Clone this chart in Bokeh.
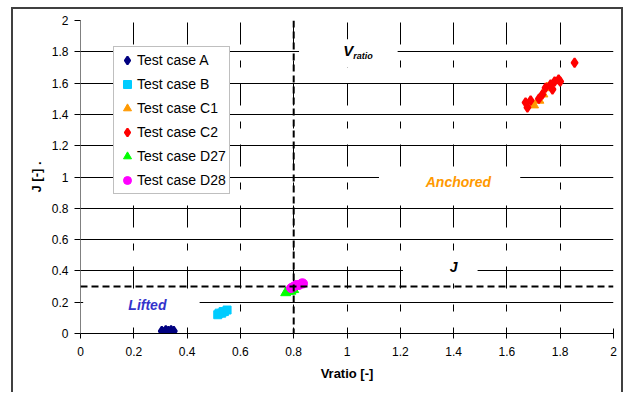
import numpy as np
from bokeh.plotting import figure
from bokeh.models import Span, Label, BoxAnnotation, FixedTicker, Legend, LegendItem
from bokeh.embed import file_html
from bokeh.resources import INLINE

# ---------------- data ----------------
a_x = [0.305, 0.315, 0.32, 0.33, 0.335, 0.34, 0.35]
a_y = [0.015, 0.01, 0.02, 0.015, 0.01, 0.02, 0.015]
b_x = [0.515, 0.52, 0.53, 0.535, 0.54, 0.55]
b_y = [0.12, 0.13, 0.13, 0.14, 0.14, 0.15]
c1_x = [1.70, 1.72, 1.735, 1.75]
c1_y = [1.46, 1.49, 1.53, 1.57]
c2_x = [1.677, 1.67, 1.689, 1.72, 1.733, 1.745, 1.764, 1.771, 1.779, 1.794, 1.80, 1.854]
c2_y = [1.444, 1.476, 1.489, 1.50, 1.527, 1.57, 1.59, 1.56, 1.61, 1.623, 1.61, 1.73]
d27_x = [0.77, 0.78, 0.79, 0.80]
d27_y = [0.26, 0.27, 0.27, 0.28]
d28_x = [0.79, 0.80, 0.81, 0.82, 0.83, 0.835]
d28_y = [0.29, 0.30, 0.31, 0.31, 0.32, 0.32]

vratio_threshold = 0.8
j_threshold = 0.3

x_ticks = [0, 0.2, 0.4, 0.6, 0.8, 1, 1.2, 1.4, 1.6, 1.8, 2]
x_tick_labels = ["0", "0.2", "0.4", "0.6", "0.8", "1", "1.2", "1.4", "1.6", "1.8", "2"]
y_ticks = [0, 0.2, 0.4, 0.6, 0.8, 1, 1.2, 1.4, 1.6, 1.8, 2]
y_tick_labels = ["0", "0.2", "0.4", "0.6", "0.8", "1", "1.2", "1.4", "1.6", "1.8", "2"]

FONT = "Liberation Sans"

p = figure(frame_width=533, frame_height=313, x_range=(0, 2), y_range=(0, 2),
           output_backend="svg", toolbar_location=None,
           min_border_left=67, min_border_right=8, min_border_top=11, min_border_bottom=59,
           background_fill_color="white", border_fill_color="white",
           outline_line_color=None)
p.styles = {"border-left": "2px solid #404040", "border-top": "2px solid #404040",
            "border-right": "2px solid #404040", "margin-left": "11px", "margin-top": "7px"}

# axes
p.xaxis.ticker = FixedTicker(ticks=x_ticks)
p.yaxis.ticker = FixedTicker(ticks=y_ticks)
p.xaxis.major_label_overrides = dict(zip(x_ticks, x_tick_labels))
p.yaxis.major_label_overrides = dict(zip(y_ticks, y_tick_labels))
for ax in (p.xaxis, p.yaxis):
    ax.major_label_text_font = FONT
    ax.major_label_text_font_size = "12px"
    ax.major_label_text_color = "black"
    ax.axis_label_text_font = FONT
    ax.axis_label_text_font_size = "13px"
    ax.axis_label_text_font_style = "bold"
    ax.axis_label_text_color = "black"
    ax.minor_tick_line_color = None
    ax.major_tick_line_color = "black"
p.xaxis.axis_label = "Vratio [-]"
p.yaxis.axis_label = "J [-] ."
p.xaxis.axis_line_color = "black"
p.yaxis.axis_line_color = "#808080"
p.xaxis.major_tick_in = 5
p.xaxis.major_tick_out = 5
p.yaxis.major_tick_in = 0
p.yaxis.major_tick_out = 6
p.xaxis.major_label_standoff = 8
p.yaxis.major_label_standoff = 6
p.xaxis.axis_label_standoff = 7
p.yaxis.axis_label_standoff = 5

# grids
p.ygrid.grid_line_color = "black"
p.ygrid.grid_line_width = 1
p.xgrid.grid_line_color = "black"
p.xgrid.grid_line_width = 1
p.xgrid.grid_line_dash = "22 16 7 16"
p.xgrid.grid_line_dash_offset = 16

# white label boxes
for l, r, b, t in [(0.82, 1.19, 1.70, 1.88), (1.12, 1.65, 0.88, 1.048),
                   (1.21, 1.49, 0.32, 0.50), (0.01, 0.447, 0.10, 0.26)]:
    p.add_layout(BoxAnnotation(left=l, right=r, bottom=b, top=t, fill_color="white",
                               fill_alpha=1.0, line_color=None))

# threshold lines
p.add_layout(Span(location=vratio_threshold, dimension="height", line_color="black",
                  line_width=2, line_dash="7 4"))
p.add_layout(Span(location=j_threshold, dimension="width", line_color="black",
                  line_width=2, line_dash="7 4"))

# region labels
p.add_layout(Label(x=1.005, y=1.808, text="V", text_font=FONT, text_font_size="15px",
                   text_font_style="bold italic", text_align="center", text_baseline="middle",
                   text_color="black"))
p.add_layout(Label(x=1.005, y=1.776, x_offset=5, text="ratio", text_font=FONT,
                   text_font_size="9px", text_font_style="bold italic", text_align="left",
                   text_baseline="middle", text_color="black"))
p.add_layout(Label(x=1.418, y=0.965, text="Anchored", text_font=FONT, text_font_size="14px",
                   text_font_style="bold italic", text_align="center", text_baseline="middle",
                   text_color="#FF9900"))
p.add_layout(Label(x=1.40, y=0.428, text="J", text_font=FONT, text_font_size="14px",
                   text_font_style="bold italic", text_align="center", text_baseline="middle",
                   text_color="black"))
p.add_layout(Label(x=0.251, y=0.179, text="Lifted", text_font=FONT, text_font_size="14px",
                   text_font_style="bold italic", text_align="center", text_baseline="middle",
                   text_color="#3333CC"))

# series
ra = p.scatter(a_x, a_y, marker="diamond", size=9, line_width=2,
               fill_color="#000080", line_color="#000080")
rb = p.scatter(b_x, b_y, marker="square", size=8, fill_color="#00CCFF", line_color="#00CCFF")
rc1 = p.scatter(c1_x, c1_y, marker="triangle", size=10, fill_color="#FF9900", line_color="#FF9900")
rc2 = p.scatter(c2_x, c2_y, marker="diamond", size=9, line_width=2,
                fill_color="#FF0000", line_color="#FF0000")
rd27 = p.scatter(d27_x, d27_y, marker="triangle", size=10, fill_color="#00FF00", line_color="#00FF00")
rd28 = p.scatter(d28_x, d28_y, marker="circle", size=9, fill_color="#FF00FF", line_color="#FF00FF")

legend = Legend(items=[
    LegendItem(label="Test case A", renderers=[ra]),
    LegendItem(label="Test case B", renderers=[rb]),
    LegendItem(label="Test case C1", renderers=[rc1]),
    LegendItem(label="Test case C2", renderers=[rc2]),
    LegendItem(label="Test case D27", renderers=[rd27]),
    LegendItem(label="Test case D28", renderers=[rd28]),
], location=(33, 139))
legend.label_text_font = FONT
legend.label_text_font_size = "14px"
legend.label_text_color = "black"
legend.padding = 3
legend.spacing = 4
legend.margin = 0
legend.glyph_width = 20
legend.glyph_height = 20
legend.label_height = 20
legend.label_standoff = -3
legend.border_line_color = "#808080"
legend.border_line_width = 1
legend.background_fill_color = "white"
legend.background_fill_alpha = 1.0
p.add_layout(legend)

open("out.html", "w").write(file_html(p, INLINE))
